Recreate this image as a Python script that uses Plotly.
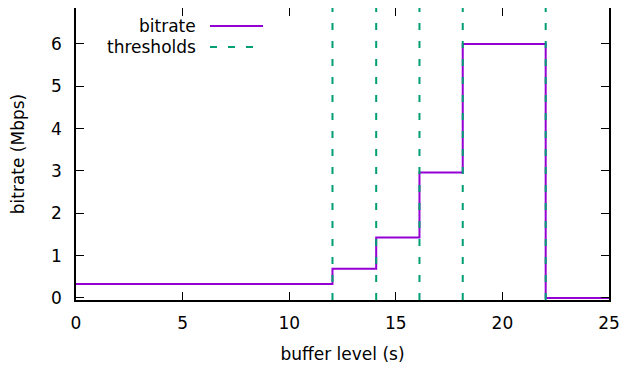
import plotly.graph_objects as go

# Data
buffer_x = [0, 12.03, 14.08, 16.11, 18.14, 22.03, 25]
bitrate_mbps = [0.331, 0.688, 1.427, 2.962, 6.0, 0.0, 0.0]
thresholds = [12.03, 14.08, 16.11, 18.14, 22.03]
x_ticks = [0, 5, 10, 15, 20, 25]
y_ticks = [0, 1, 2, 3, 4, 5, 6]
y_min, y_max = -0.05, 6.85

PURPLE = "#9400d3"
GREEN = "#009e73"
FONT = "DejaVu Sans"

OFF = 8  # page body margin
FIG_W, FIG_H = 644 - OFF, 368 - OFF

fig = go.Figure()

fig.add_trace(go.Scatter(x=buffer_x, y=bitrate_mbps, mode="lines",
                         line=dict(color=PURPLE, width=2, shape="hv"),
                         name="bitrate", showlegend=False))

# threshold vertical lines (drawn on top of the bitrate line)
tx, ty = [], []
for t in thresholds:
    tx += [t, t, None]
    ty += [y_min, y_max, None]
fig.add_trace(go.Scatter(x=tx, y=ty, mode="lines",
                         line=dict(color=GREEN, width=2, dash="7px,11px"),
                         name="thresholds", showlegend=False, hoverinfo="skip"))

# page-coordinate plot area
L, R = 76 - OFF, 609 - OFF
plot_top, plot_bottom = 8 - OFF, 300 - OFF
H = plot_bottom - plot_top
W = R - L

# custom gnuplot-style legend (text right-aligned, sample on the right)
legend_items = [("bitrate", PURPLE, "solid", 26), ("thresholds", GREEN, "7px,11px", 47)]
for label, col, dash, ypx in legend_items:
    yp = 1 - (ypx - OFF - plot_top) / H
    fig.add_annotation(x=(198 - OFF - L) / W, y=yp, xref="paper", yref="paper",
                       text=label, showarrow=False, xanchor="right", yanchor="middle",
                       font=dict(family=FONT, size=17, color="black"))
    fig.add_shape(type="line", xref="paper", yref="paper",
                  x0=(210 - OFF - L) / W, x1=(263 - OFF - L) / W, y0=yp, y1=yp,
                  line=dict(color=col, width=2, dash=dash))

axis_common = dict(showline=True, linecolor="black", linewidth=1.5, mirror="ticks",
                   ticks="inside", ticklen=8, tickwidth=1, tickcolor="black",
                   showgrid=False, zeroline=False,
                   tickfont=dict(family=FONT, size=17, color="black"))

fig.update_xaxes(range=[0, 25], tickvals=x_ticks, ticklabelstandoff=7,
                 title=dict(text="buffer level (s)", font=dict(family=FONT, size=17, color="black"), standoff=16),
                 **axis_common)
fig.update_yaxes(range=[y_min, y_max], tickvals=y_ticks, ticklabelstandoff=9,
                 title=dict(text="bitrate (Mbps)", font=dict(family=FONT, size=17, color="black"), standoff=24),
                 **axis_common)

fig.update_layout(width=FIG_W, height=FIG_H,
                  margin=dict(l=L, r=FIG_W - R, t=plot_top, b=FIG_H - plot_bottom, autoexpand=False),
                  plot_bgcolor="white", paper_bgcolor="white",
                  font=dict(family=FONT, size=17, color="black"),
                  showlegend=False)

fig.write_html("out.html")
